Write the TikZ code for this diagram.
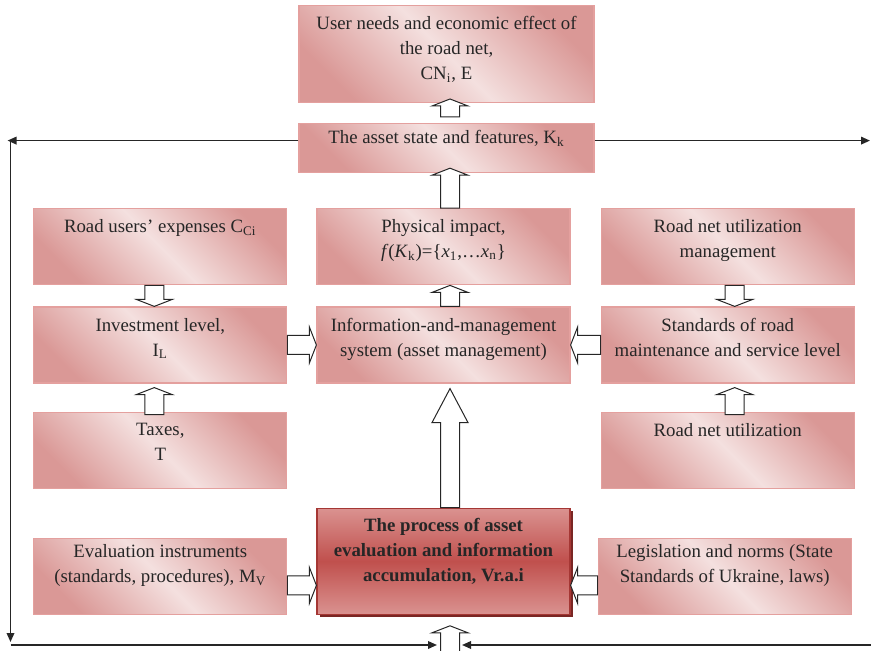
\documentclass[tikz,border=0pt]{standalone}
\usepackage{fontspec}
\setmainfont{Liberation Serif}
\usetikzlibrary{positioning,arrows.meta,calc,shadows}

\definecolor{pklight}{RGB}{244,224,223}
\definecolor{pkdark}{RGB}{218,152,150}
\definecolor{pkline}{RGB}{228,160,158}
\definecolor{rdtop}{RGB}{218,146,144}
\definecolor{rdmid}{RGB}{192,80,77}
\definecolor{rdline}{RGB}{165,55,52}
\definecolor{rdshadow}{RGB}{122,38,36}
\definecolor{txt}{RGB}{38,38,38}

% hollow block arrow from #2 to tip #3, #1 = head length
\newcommand{\barrow}[3][3.5pt]{%
  \coordinate (ba) at (#2);
  \coordinate (bb) at (#3);
  \coordinate (bh) at ($(bb)!#1!(ba)$);
  \draw[blockarrow] ($(ba)!4.75pt!90:(bb)$) -- ($(bh)!4.75pt!90:(bb)$)
    -- ($(bh)!9pt!90:(bb)$) -- (bb) -- ($(bh)!9pt!-90:(bb)$)
    -- ($(bh)!4.75pt!-90:(bb)$) -- ($(ba)!4.75pt!-90:(bb)$) -- cycle;
}

\begin{document}
\begin{tikzpicture}[node distance=10.5pt and 14.5pt,
  boxh/.code={\def\boxht{#1}},
  boxw/.code={\def\boxwd{#1}},
  box/.style={draw=pkline, line width=0.6pt, top color=pkdark, bottom color=pkdark,
    middle color=pklight, shading angle=-45, inner xsep=2pt, inner ysep=5.5pt,
    text=txt, boxh=27pt, boxw=122.5pt,
    execute at begin node={\begin{minipage}[t][\boxht][t]{\boxwd}\centering
      \fontsize{9.4}{12.5}\selectfont},
    execute at end node={\end{minipage}}},
  snug/.style={inner ysep=3.25pt},
  wide/.style={boxw=143.5pt},
  keybox/.style={box, draw=rdline, top color=rdtop, bottom color=rdtop,
    middle color=rdmid, shading angle=0, inner ysep=5.25pt, boxh=42.5pt,
    general shadow={fill=rdshadow, shadow xshift=1.5pt, shadow yshift=-1.5pt}},
  blockarrow/.style={draw=txt, fill=white, line width=0.5pt},
  feedback/.style={draw=txt, line width=0.8pt, -{Triangle[length=4.5pt,width=3.8pt]}}]

\useasboundingbox (0,0) rectangle (435.5pt,-325.5pt);

% centre column
\node[box] (info) at (221.75pt,-172.5pt) {Information-and-management\\ system (asset management)};
\node[box, above=of info] (phys) {Physical impact,\\ \textit{f}(\textit{K}\textsubscript{k})=\{\textit{x}\textsubscript{1},…\textit{x}\textsubscript{n}\}};
\node[box, wide, snug, boxh=18pt, above=17.5pt of phys, xshift=1.5pt] (asset) {The asset state and features, K\textsubscript{k}};
\node[box, wide, boxh=37.5pt, above=10pt of asset] (needs) {User needs and economic effect of\\ the road net,\\ CN\textsubscript{i}, E};
\node[keybox, below=62pt of info] (main) {\bfseries The process of asset\\ evaluation and information\\ accumulation, Vr.a.i};

% left column
\node[box, left=of info] (invest) {Investment level,\\ I\textsubscript{L}};
\node[box, above=of invest] (users) {Road users’ expenses C\textsubscript{Ci}};
\node[box, below=14pt of invest] (taxes) {Taxes,\\ T};
\node[box, snug, boxh=31.5pt, below=24.5pt of taxes] (eval) {Evaluation instruments\\ (standards, procedures), M\textsubscript{V}};

% right column
\node[box, right=15pt of info] (standards) {Standards of road\\ maintenance and service level};
\node[box, above=of standards] (mgmt) {Road net utilization\\ management};
\node[box, below=14pt of standards] (util) {Road net utilization};
\node[box, snug, boxh=31.5pt, below=24.5pt of util, xshift=-1.5pt] (legis) {Legislation and norms (State\\ Standards of Ukraine, laws)};

% block arrows
\barrow{[xshift=1.75pt,yshift=3pt]asset.north}{[xshift=1.75pt,yshift=2pt]needs.south}
\barrow{[xshift=3.25pt]phys.north}{[xshift=1.75pt,yshift=2.5pt]asset.south}
\barrow{[xshift=3.25pt]info.north}{[xshift=3.25pt]phys.south}
\barrow[17pt]{[xshift=3.25pt]main.north}{[xshift=3.25pt,yshift=-2.5pt]info.south}
\barrow{[xshift=-3pt]users.south}{[xshift=-3pt]invest.north}
\barrow{[xshift=-3pt,yshift=-1.5pt]taxes.north}{[xshift=-3pt,yshift=-2pt]invest.south}
\barrow{[xshift=3.5pt]mgmt.south}{[xshift=3.5pt]standards.north}
\barrow{[xshift=3.5pt,yshift=-1.5pt]util.north}{[xshift=3.5pt,yshift=-2pt]standards.south}
\barrow{invest.east}{info.west}
\barrow{standards.west}{info.east}
\coordinate (evalout) at ([yshift=-4.5pt]eval.east);
\coordinate (legisout) at ([yshift=-4.5pt]legis.west);
\barrow{evalout}{evalout -| main.west}
\barrow{legisout}{legisout -| main.east}
\coordinate (feed) at (225pt,-327pt);
\barrow{feed}{[xshift=3.25pt,yshift=-5.5pt]main.south}

% feedback loop
\coordinate (al) at ([yshift=3.75pt]asset.west);
\coordinate (ar) at ([yshift=3.75pt]asset.east);
\coordinate (tl) at (3.75pt,0pt);
\coordinate (tr) at (435pt,0pt);
\coordinate (corner) at (5.25pt,-322.5pt);
\coordinate (bin) at (218.5pt,-322.5pt);
\coordinate (br) at (435.5pt,-322.5pt);
\coordinate (bin2) at (231pt,-322.5pt);
\draw[feedback] (al) -- (al -| tl);
\draw[feedback] (al -| corner) -- ([yshift=1.5pt]corner);
\draw[feedback] (corner) -- (bin);
\draw[feedback] (ar) -- (ar -| tr);
\draw[feedback] (br) -- (bin2);
\end{tikzpicture}
\end{document}
